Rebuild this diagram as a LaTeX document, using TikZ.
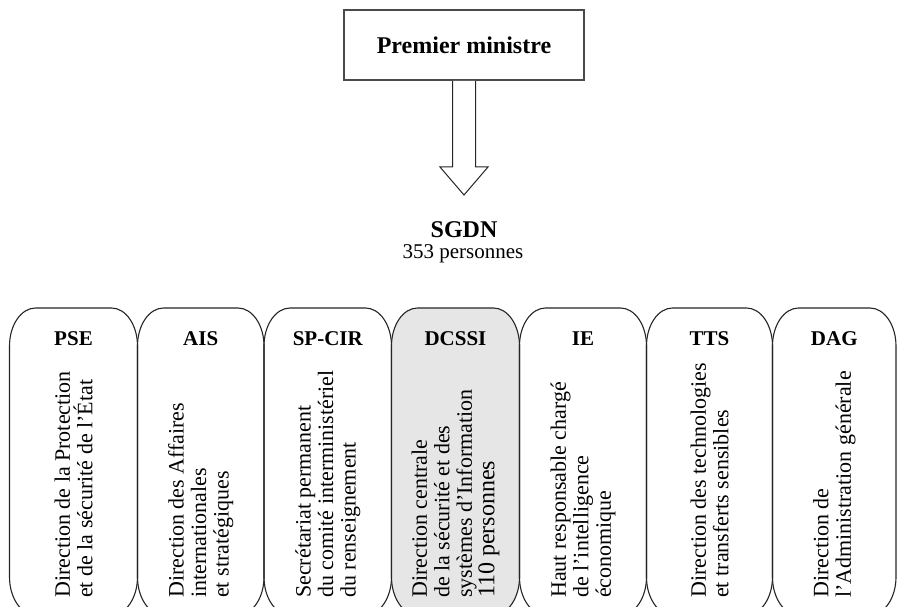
\documentclass[tikz,border=0pt]{standalone}
\usepackage{fontspec}
\setmainfont{Liberation Serif}
\usetikzlibrary{calc}
\definecolor{boxline}{HTML}{262626}
\definecolor{pmline}{HTML}{4A4A4A}
\definecolor{dcfill}{HTML}{E6E6E6}
\tikzset{
  colbox/.style={draw=boxline, line width=1.1pt},
  pmbox/.style={draw=pmline, line width=1.6pt, minimum width=240pt, minimum height=70pt, inner sep=0pt, font=\fontsize{24}{26}\selectfont\bfseries},
  coltitle/.style={anchor=base, inner sep=0pt, font=\fontsize{21}{23}\selectfont\bfseries},
  colbody/.style={rotate=90, anchor=west, inner sep=0pt, align=left, font=\fontsize{22}{22.5}\selectfont},
  barrow/.style={draw=boxline, line width=1pt, fill=white, line join=miter},
  sgdnt/.style={anchor=base, inner sep=0pt, font=\fontsize{24}{26}\selectfont\bfseries},
  sgdnp/.style={anchor=base, inner sep=0pt, font=\fontsize{21}{23}\selectfont}
}
\newcommand\rbox[3][]{%
  \draw[colbox,#1] (#2,346) .. controls (#2,325) and (#2+11.7,308) .. (#2+26,308)
    -- (#3-26,308) .. controls (#3-11.7,308) and (#3,325) .. (#3,346)
    -- (#3,577) .. controls (#3,598) and (#3-11.7,615) .. (#3-26,615)
    -- (#2+26,615) .. controls (#2+11.7,615) and (#2,598) .. (#2,577) -- cycle;}
\begin{document}
\begin{tikzpicture}[x=1pt,y=-1pt]
\useasboundingbox (0,0) rectangle (897,607);
\clip (0,0) rectangle (897,607);
\fill[white] (0,0) rectangle (897,607);

% top box and arrow
\node[pmbox] (pm) at (464,45) {Premier ministre};
\coordinate (tip) at (464,195);
\draw[barrow] ($(pm.south)+(-11.5,0)$) -- ($(tip)+(-11.5,-28)$) -- ($(tip)+(-24,-28)$) -- (tip)
  -- ($(tip)+(24,-28)$) -- ($(tip)+(11.5,-28)$) -- ($(pm.south)+(11.5,0)$);
\node[sgdnt] (sgdn) at (464,237) {SGDN};
\node[sgdnp] (sgdnpers) at (463,258) {353 personnes};

% columns
\rbox{9.5}{137.5}
\rbox{137.5}{264}
\rbox{264}{391.5}
\rbox[fill=dcfill]{391.5}{519.5}
\rbox{519.5}{646.5}
\rbox{646.5}{772.5}
\rbox{772.5}{896}

\node[coltitle] (pse) at (73.5,345) {PSE};
\node[coltitle] (ais) at (200.75,345) {AIS};
\node[coltitle] (spcir) at (327.75,345) {SP-CIR};
\node[coltitle] (dcssi) at (455.5,345) {DCSSI};
\node[coltitle] (ie) at (583,345) {IE};
\node[coltitle] (tts) at (709.5,345) {TTS};
\node[coltitle] (dag) at (834.25,345) {DAG};

\node[colbody] (psetxt) at (73.5,598) {Direction de la Protection\\et de la sécurité de l’État};
\node[colbody] (aistxt) at (200.75,598) {Direction des Affaires\\internationales\\et stratégiques};
\node[colbody] (spcirtxt) at (327.75,598) {Secrétariat permanent\\du comité interministériel\\du renseignement};
\node[colbody] (dcssitxt) at (455.5,598) {Direction centrale\\de la sécurité et des\\systèmes d’Information\\{\fontsize{24}{24}\selectfont 110 personnes}};
\node[colbody] (ietxt) at (583,598) {Haut responsable chargé\\de l’intelligence\\économique};
\node[colbody] (ttstxt) at (709.5,598) {Direction des technologies\\et transferts sensibles};
\node[colbody] (dagtxt) at (834.25,598) {Direction de\\l’Administration générale};
\end{tikzpicture}
\end{document}
